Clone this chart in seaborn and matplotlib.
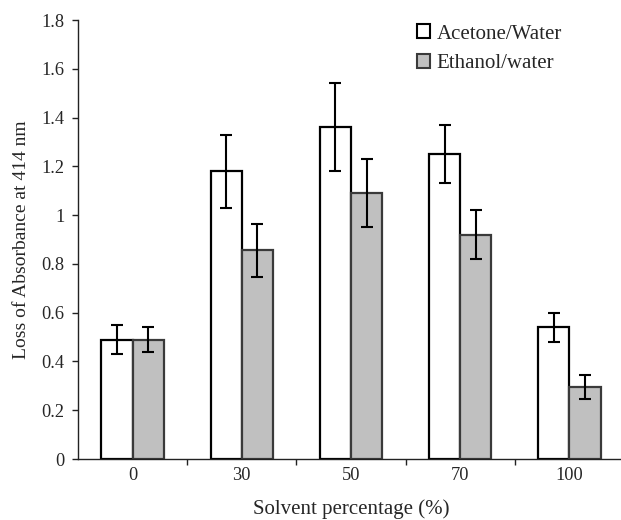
import matplotlib
matplotlib.use("Agg")
import matplotlib.pyplot as plt
from matplotlib.patches import Patch
from matplotlib.ticker import FormatStrFormatter, FixedLocator
import seaborn as sns
import pandas as pd

# Solvent percentage categories and the two extraction series
categories = ["0", "30", "50", "70", "100"]
series_names = ["Acetone/Water", "Ethanol/water"]
acetone = [0.49, 1.18, 1.36, 1.25, 0.54]
acetone_err = [0.06, 0.15, 0.18, 0.12, 0.06]
ethanol = [0.49, 0.855, 1.09, 0.92, 0.295]
ethanol_err = [0.05, 0.11, 0.14, 0.10, 0.05]
y_ticks = [0, 0.2, 0.4, 0.6, 0.8, 1.0, 1.2, 1.4, 1.6, 1.8]

df = pd.DataFrame({
    "Solvent": categories * 2,
    "Series": [series_names[0]] * len(categories) + [series_names[1]] * len(categories),
    "Value": acetone + ethanol,
})

sns.set_style("white")
plt.rcParams["font.family"] = ["Liberation Serif", "DejaVu Serif"]
plt.rcParams["font.size"] = 13.2

fill_colors = {series_names[0]: "white", series_names[1]: "#c0c0c0"}
edge_colors = {series_names[0]: "black", series_names[1]: "#3a3a3a"}

fig = plt.figure(figsize=(6.21, 5.20), dpi=100)
ax = fig.add_axes([0.1256, 0.1173, 0.8792, 0.8442])

sns.barplot(data=df, x="Solvent", y="Value", hue="Series", order=categories,
            hue_order=series_names, palette=fill_colors, width=0.573,
            legend=False, ax=ax, saturation=1)

errs = [acetone_err, ethanol_err]
vals = [acetone, ethanol]
for cont, name, e, v in zip(ax.containers, series_names, errs, vals):
    xs = []
    for bar in cont:
        bar.set_edgecolor(edge_colors[name])
        bar.set_linewidth(1.6)
        xs.append(bar.get_x() + bar.get_width() / 2)
    ax.errorbar(xs, v, yerr=e, fmt="none", ecolor="black", elinewidth=1.5,
                capsize=4.2, capthick=1.5, zorder=5)

ax.set_xlim(-0.5, 4.5)
ax.set_ylim(0, 1.8)
ax.set_yticks(y_ticks)
ax.yaxis.set_major_formatter(FormatStrFormatter("%g"))

# category labels at bar-group centres, tick marks between groups
ax.tick_params(axis="x", which="major", length=0, pad=6, labelsize=13.2)
ax.xaxis.set_minor_locator(FixedLocator([0.5, 1.5, 2.5, 3.5]))
ax.tick_params(axis="x", which="minor", length=4, width=1, direction="out",
               color="#222222", bottom=True)
ax.tick_params(axis="y", length=4, width=1, direction="out", color="#222222",
               left=True, pad=6, labelsize=13.2)

for side in ["top", "right"]:
    ax.spines[side].set_visible(False)
for side in ["left", "bottom"]:
    ax.spines[side].set_color("#222222")
    ax.spines[side].set_linewidth(1.0)

ax.set_xlabel("Solvent percentage (%)", labelpad=11, fontsize=15)
ax.set_ylabel("Loss of Absorbance at 414 nm", labelpad=8, fontsize=14)

handles = [Patch(facecolor=fill_colors[n], edgecolor=edge_colors[n], linewidth=1.5)
           for n in series_names]
fig.legend(handles, series_names, loc="upper left", bbox_to_anchor=(0.6715, 0.953),
           frameon=False, fontsize=15, handlelength=0.63, handleheight=0.63,
           handletextpad=0.3, labelspacing=0.5, borderpad=0, borderaxespad=0)

fig.savefig("out.png", dpi=100)
